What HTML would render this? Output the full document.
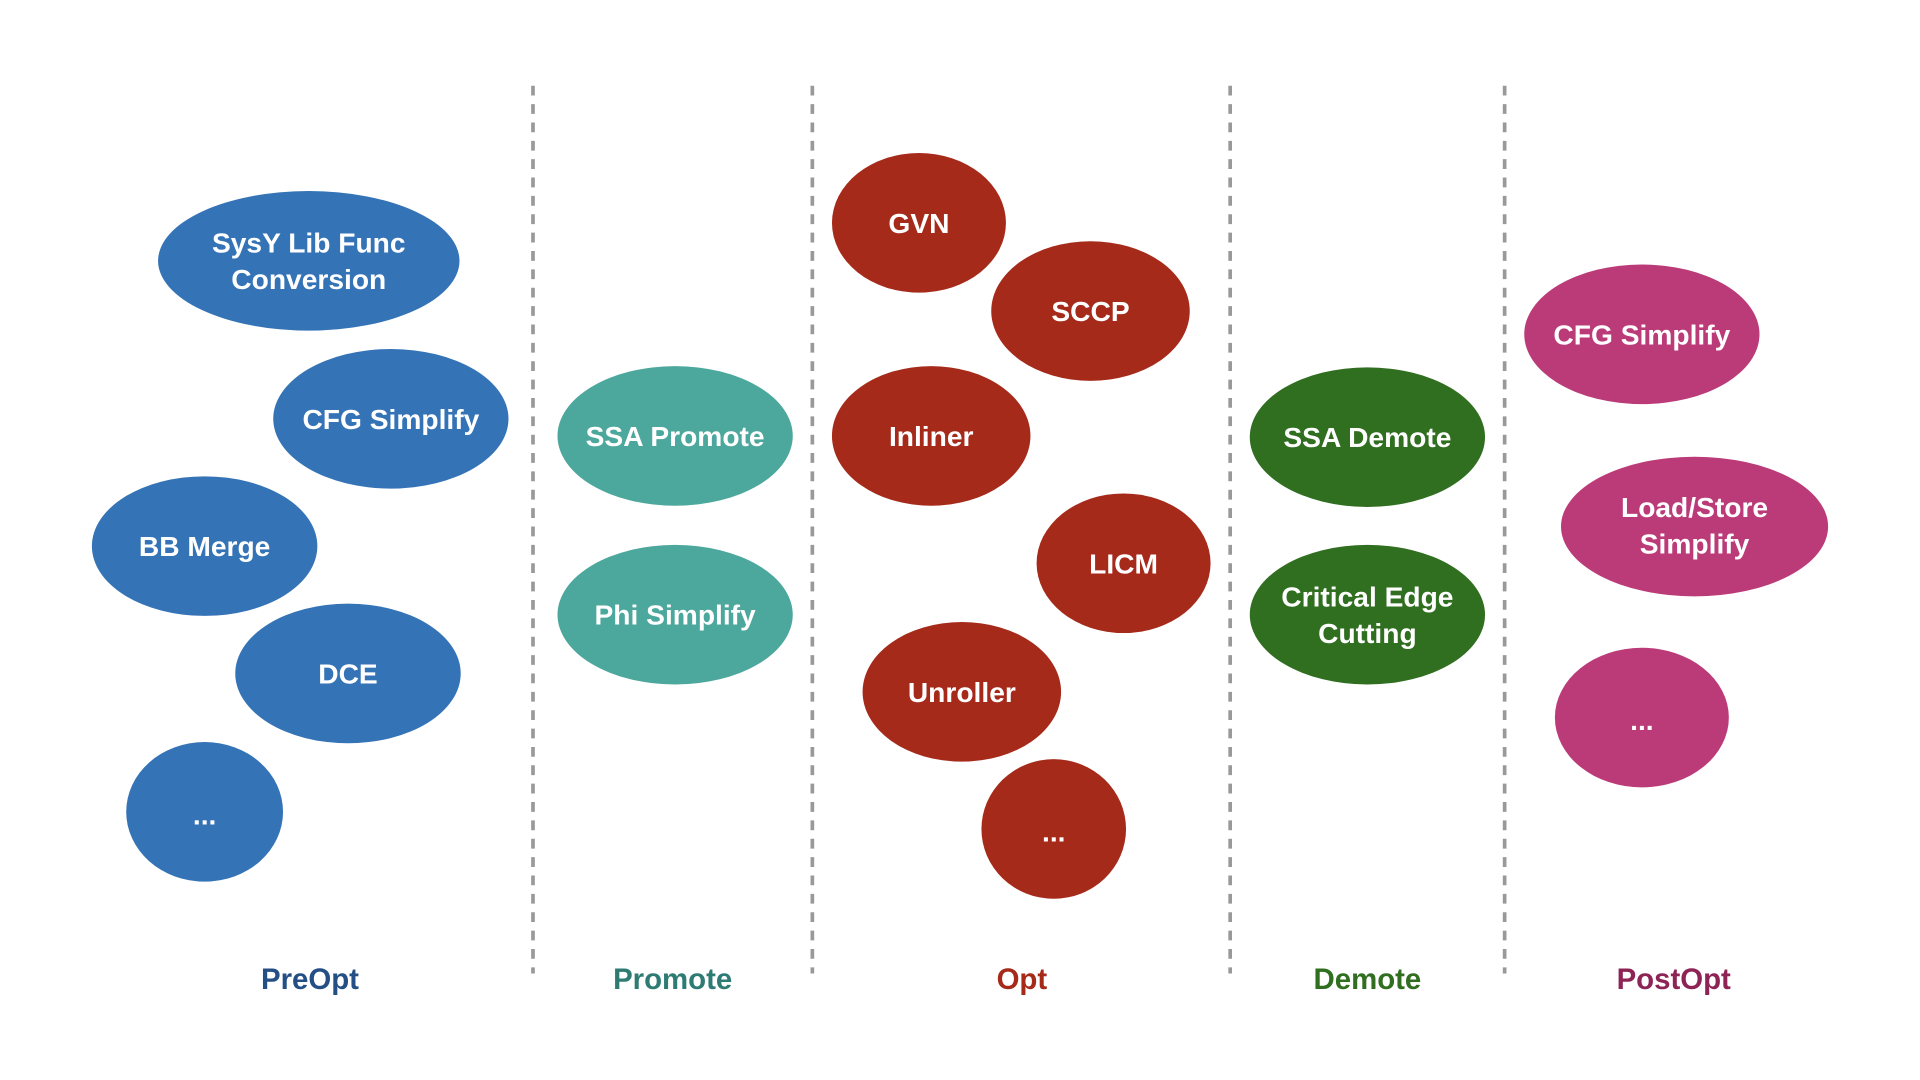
<!DOCTYPE html>
<html><head><meta charset="utf-8"><style>
html,body{margin:0;padding:0;background:#fff;width:1920px;height:1080px;overflow:hidden}
svg{display:block}
text{font-family:"Liberation Sans",Arial,sans-serif;font-weight:bold;text-anchor:middle;dominant-baseline:central}
.n{fill:#fff;font-size:23px}
.l{font-size:24px}
</style></head><body>
<svg width="1920" height="1080" viewBox="0 0 1567 882" preserveAspectRatio="none" xmlns="http://www.w3.org/2000/svg">
<g stroke="#999" stroke-width="3" stroke-dasharray="8,7">
<line x1="435" y1="70" x2="435" y2="795"/>
<line x1="663" y1="70" x2="663" y2="795"/>
<line x1="1004" y1="70" x2="1004" y2="795"/>
<line x1="1228" y1="70" x2="1228" y2="795"/>
</g>
<g fill="#3473b6">
<ellipse cx="252" cy="213" rx="123" ry="57"/>
<ellipse cx="319" cy="342" rx="96" ry="57"/>
<ellipse cx="167" cy="446" rx="92" ry="57"/>
<ellipse cx="284" cy="550" rx="92" ry="57"/>
<ellipse cx="167" cy="663" rx="64" ry="57"/>
</g>
<g fill="#4ca79c">
<ellipse cx="551" cy="356" rx="96" ry="57"/>
<ellipse cx="551" cy="502" rx="96" ry="57"/>
</g>
<g fill="#a52a1a">
<ellipse cx="750" cy="182" rx="71" ry="57"/>
<ellipse cx="890" cy="254" rx="81" ry="57"/>
<ellipse cx="760" cy="356" rx="81" ry="57"/>
<ellipse cx="917" cy="460" rx="71" ry="57"/>
<ellipse cx="785" cy="565" rx="81" ry="57"/>
<ellipse cx="860" cy="677" rx="59" ry="57"/>
</g>
<g fill="#306e20">
<ellipse cx="1116" cy="357" rx="96" ry="57"/>
<ellipse cx="1116" cy="502" rx="96" ry="57"/>
</g>
<g fill="#bb3b79">
<ellipse cx="1340" cy="273" rx="96" ry="57"/>
<ellipse cx="1383" cy="430" rx="109" ry="57"/>
<ellipse cx="1340" cy="586" rx="71" ry="57"/>
</g>
<text class="n" x="252" y="198">SysY Lib Func</text>
<text class="n" x="252" y="228">Conversion</text>
<text class="n" x="319" y="342">CFG Simplify</text>
<text class="n" x="167" y="446">BB Merge</text>
<text class="n" x="284" y="550">DCE</text>
<text class="n" x="167" y="665">...</text>
<text class="n" x="551" y="356">SSA Promote</text>
<text class="n" x="551" y="502">Phi Simplify</text>
<text class="n" x="750" y="182">GVN</text>
<text class="n" x="890" y="254">SCCP</text>
<text class="n" x="760" y="356">Inliner</text>
<text class="n" x="917" y="460">LICM</text>
<text class="n" x="785" y="565">Unroller</text>
<text class="n" x="860" y="679">...</text>
<text class="n" x="1116" y="357">SSA Demote</text>
<text class="n" x="1116" y="487">Critical Edge</text>
<text class="n" x="1116" y="517">Cutting</text>
<text class="n" x="1340" y="273">CFG Simplify</text>
<text class="n" x="1383" y="414">Load/Store</text>
<text class="n" x="1383" y="444">Simplify</text>
<text class="n" x="1340" y="588">...</text>
<text class="l" x="253" y="800" fill="#234f85">PreOpt</text>
<text class="l" x="549" y="800" fill="#2e7b74">Promote</text>
<text class="l" x="834" y="800" fill="#a52a1a">Opt</text>
<text class="l" x="1116" y="800" fill="#306e20">Demote</text>
<text class="l" x="1366" y="800" fill="#8e2456">PostOpt</text>
</svg>
</body></html>
